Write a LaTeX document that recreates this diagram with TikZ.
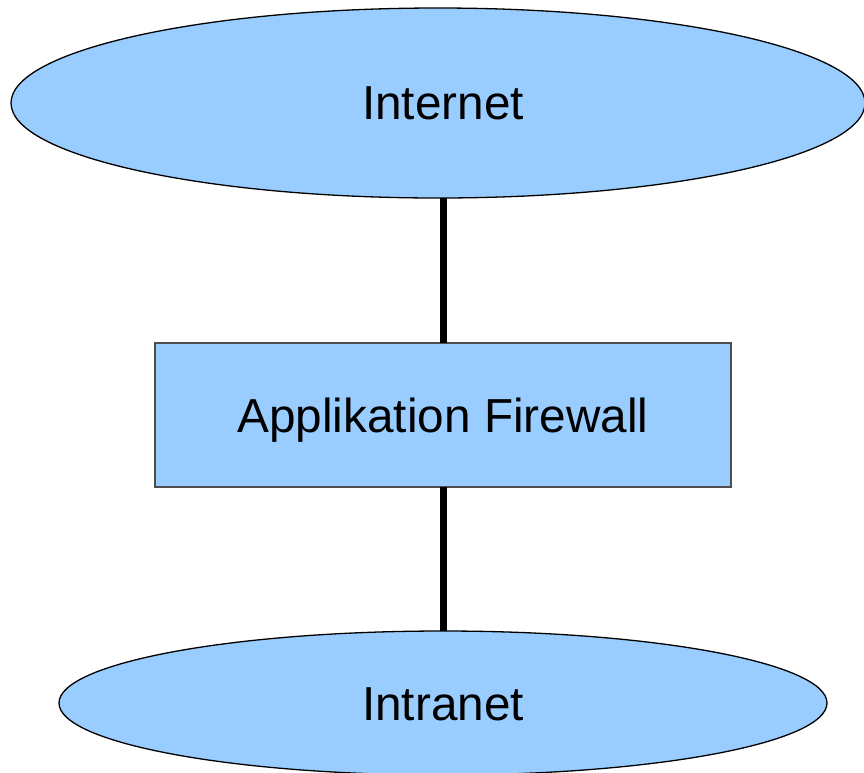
\documentclass[tikz,border=0pt]{standalone}
\usepackage{fontspec}
\setmainfont{Liberation Sans}
\usetikzlibrary{shapes.geometric}
\definecolor{fillblue}{HTML}{99CCFF}
\definecolor{boxedge}{HTML}{4D4D4D}
\begin{document}
\begin{tikzpicture}[x=1pt,y=-1pt,
  cloud/.style={ellipse,draw=black,line width=1.3pt,fill=fillblue,inner sep=0pt,outer sep=0pt,
    font=\fontsize{47.7}{57}\selectfont},
  fwbox/.style={rectangle,draw=boxedge,line width=1.5pt,fill=fillblue,inner sep=0pt,outer sep=0pt,
    minimum width=576pt,minimum height=144pt,font=\fontsize{47.7}{57}\selectfont},
  lbl/.style={font=\fontsize{47.7}{57}\selectfont,inner sep=0pt},
  link/.style={line width=7pt,draw=black}]
\useasboundingbox (0,0) rectangle (864,772);
\clip (0,0) rectangle (864,772);
\node[cloud,minimum width=854pt,minimum height=190pt] (inet) at (438,103) {};
\node[cloud,minimum width=768pt,minimum height=144pt] (intra) at (443,703) {};
\node[fwbox] (fw) at (443,415) {};
\coordinate (inetlow) at (inet.south -| fw.center);
\coordinate (intrahigh) at (intra.north);
\draw[link] (inetlow) -- (fw.north);
\draw[link] (fw.south) -- (intrahigh);
\node[lbl] (tinet) at (443,103) {Internet};
\node[lbl,anchor=base] (tfw) at (443,432) {Applikation Firewall};
\node[lbl] (tintra) at (443,704) {Intranet};
\end{tikzpicture}
\end{document}
